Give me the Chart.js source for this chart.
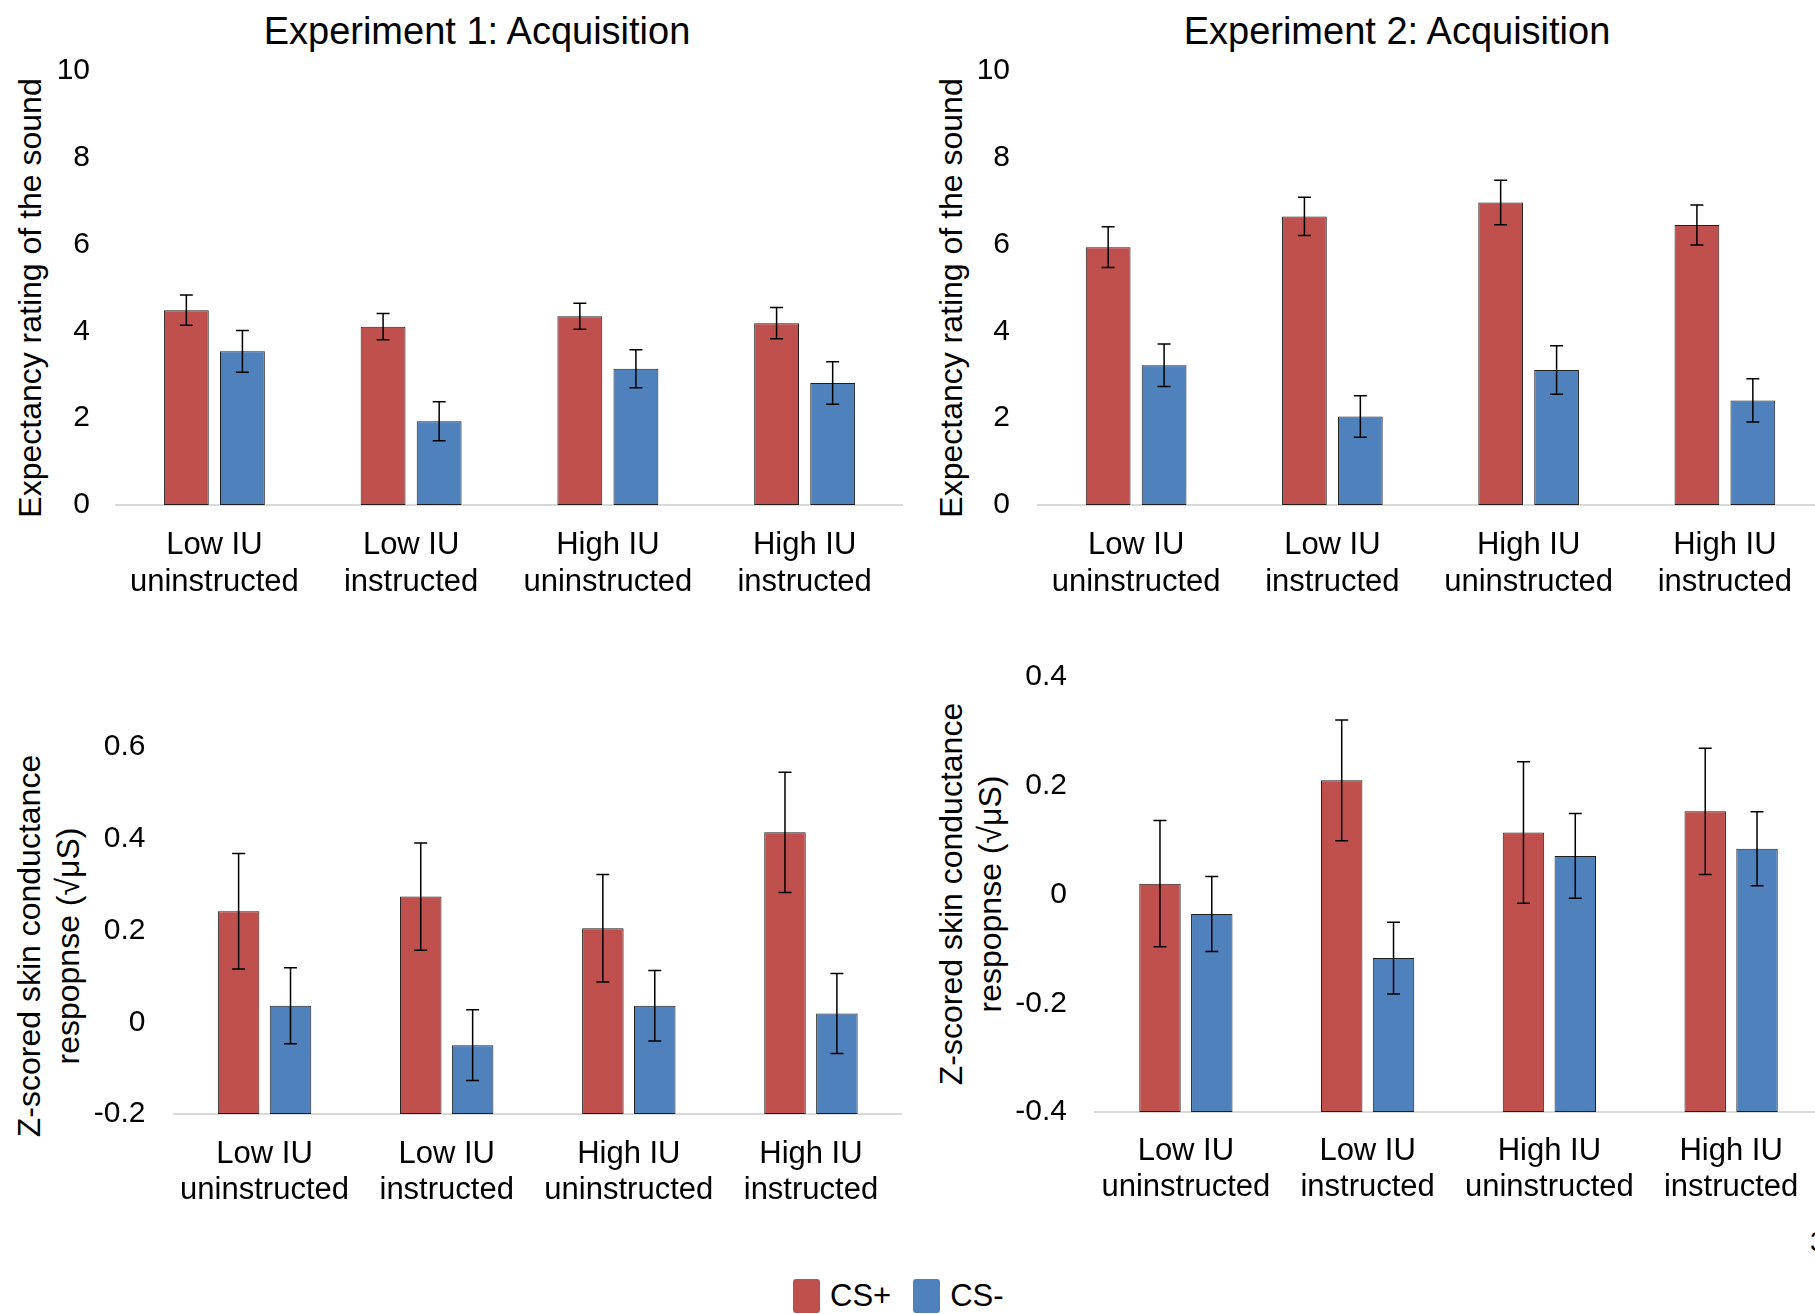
<!DOCTYPE html>
<html>
<head>
<meta charset="utf-8">
<script src="https://cdn.jsdelivr.net/npm/chart.js@4.4.1/dist/chart.umd.min.js"></script>
<style>
    html, body {
        margin: 0;
        padding: 0;
        background: #fff;
    }
    body {
        position: relative;
        width: 1815px;
        height: 1314px;
        overflow: hidden;
        font-family: 'Liberation Sans', Arial, sans-serif;
        color: #000;
    }
    canvas {
        position: absolute;
    }
    .panel-title {
        position: absolute;
        top: 9px;
        height: 44px;
        line-height: 44px;
        font-size: 38px;
        white-space: nowrap;
        transform: translateX(-50%);
    }
    .axis-title {
        position: absolute;
        font-size: 32px;
        line-height: 38.75px;
        white-space: nowrap;
        text-align: center;
        transform: translate(-50%, -50%) rotate(-90deg);
    }
    #legend {
        position: absolute;
        left: 793px;
        top: 1279px;
        display: flex;
        height: 34px;
        line-height: 34px;
        font-size: 31px;
    }
    .legend-item {
        display: flex;
        align-items: flex-start;
        margin-right: 22px;
    }
    .legend-box {
        width: 27px;
        height: 34px;
        border-radius: 3px;
        margin-right: 10px;
    }
    #pageNumber {
        position: absolute;
        left: 1810px;
        top: 1228px;
        font-size: 27px;
        line-height: 28px;
    }
</style>
</head>
<body>
<div class="panel-title" style="left: 477px;">Experiment 1: Acquisition</div>
<div class="panel-title" style="left: 1397px;">Experiment 2: Acquisition</div>

<div class="axis-title" style="left: 30px; top: 298px;">Expectancy rating of the sound</div>
<div class="axis-title" style="left: 951px; top: 298px;">Expectancy rating of the sound</div>
<div class="axis-title" style="left: 49px; top: 946px;">Z-scored skin conductance<br>respopnse (&#8730;&#956;S)</div>
<div class="axis-title" style="left: 971px; top: 894px;">Z-scored skin conductance<br>respopnse (&#8730;&#956;S)</div>

<canvas id="exp1Rating" style="left: 0px; top: 0px;" width="903" height="620"></canvas>
<canvas id="exp2Rating" style="left: 910px; top: 0px;" width="913" height="620"></canvas>
<canvas id="exp1Scr" style="left: 0px; top: 640px;" width="902" height="580"></canvas>
<canvas id="exp2Scr" style="left: 910px; top: 620px;" width="912" height="600"></canvas>

<div id="legend"></div>
<div id="pageNumber">3</div>

<script>
const categories = [
    ['Low IU', 'uninstructed'],
    ['Low IU', 'instructed'],
    ['High IU', 'uninstructed'],
    ['High IU', 'instructed'],
];
const seriesNames = ['CS+', 'CS-'];
const seriesColors = ['#C0504D', '#4F81BD'];

// expectancy ratings (0-10)
const exp1RatingCsPlus = [4.49, 4.11, 4.35, 4.19];
const exp1RatingCsPlusErr = [0.35, 0.30, 0.30, 0.36];
const exp1RatingCsMinus = [3.54, 1.93, 3.14, 2.81];
const exp1RatingCsMinusErr = [0.48, 0.45, 0.44, 0.49];

const exp2RatingCsPlus = [5.94, 6.65, 6.97, 6.45];
const exp2RatingCsPlusErr = [0.47, 0.44, 0.51, 0.46];
const exp2RatingCsMinus = [3.22, 2.04, 3.11, 2.41];
const exp2RatingCsMinusErr = [0.49, 0.48, 0.56, 0.50];

// z-scored skin conductance
const exp1ScrCsPlus = [0.242, 0.274, 0.205, 0.414];
const exp1ScrCsPlusErr = [0.126, 0.117, 0.117, 0.131];
const exp1ScrCsMinus = [0.036, -0.050, 0.036, 0.019];
const exp1ScrCsMinusErr = [0.083, 0.077, 0.077, 0.087];

const exp2ScrCsPlus = [0.020, 0.210, 0.114, 0.153];
const exp2ScrCsPlusErr = [0.116, 0.111, 0.130, 0.116];
const exp2ScrCsMinus = [-0.036, -0.117, 0.071, 0.084];
const exp2ScrCsMinusErr = [0.069, 0.066, 0.078, 0.068];

const ratingTicks = [0, 2, 4, 6, 8, 10];
const exp1ScrTicks = [-0.2, 0, 0.2, 0.4, 0.6];
const exp2ScrTicks = [-0.4, -0.2, 0, 0.2, 0.4];

const fontFamily = "'Liberation Sans', Arial, sans-serif";

const errorBarPlugin = {
    id: 'errorBars',
    afterDatasetsDraw(chart) {
        const { ctx } = chart;
        const yScale = chart.scales.y;
        const cap = 6.5;

        chart.data.datasets.forEach((dataset, datasetIndex) => {
            const meta = chart.getDatasetMeta(datasetIndex);
            meta.data.forEach((bar, index) => {
                const value = dataset.data[index];
                const err = dataset.errors[index];
                const top = yScale.getPixelForValue(value + err);
                const bottom = yScale.getPixelForValue(value - err);

                ctx.save();
                ctx.strokeStyle = '#000';
                ctx.lineWidth = 1.5;
                ctx.beginPath();
                ctx.moveTo(bar.x, top);
                ctx.lineTo(bar.x, bottom);
                ctx.moveTo(bar.x - cap, top);
                ctx.lineTo(bar.x + cap, top);
                ctx.moveTo(bar.x - cap, bottom);
                ctx.lineTo(bar.x + cap, bottom);
                ctx.stroke();
                ctx.restore();
            });
        });
    },
};

function makeDataset(index, values, errors, base) {
    return {
        label: seriesNames[index],
        data: values,
        errors: errors,
        base: base,
        backgroundColor: seriesColors[index],
        borderColor: '#1f1f1f',
        borderWidth: 1,
        borderSkipped: false,
        categoryPercentage: 0.57,
        barPercentage: 0.8,
    };
}

function createPanel(canvasId, setup) {
    const canvas = document.getElementById(canvasId);
    const min = setup.ticks[0];
    const max = setup.ticks[setup.ticks.length - 1];

    return new Chart(canvas.getContext('2d'), {
        type: 'bar',
        data: {
            labels: categories,
            datasets: [
                makeDataset(0, setup.csPlus, setup.csPlusErr, min),
                makeDataset(1, setup.csMinus, setup.csMinusErr, min),
            ],
        },
        options: {
            responsive: false,
            animation: false,
            devicePixelRatio: 1,
            layout: {
                padding: { top: setup.plotTop, left: 0, right: 0, bottom: 0 },
            },
            plugins: {
                legend: { display: false },
                tooltip: { enabled: false },
                title: { display: false },
            },
            scales: {
                x: {
                    grid: { display: false, drawTicks: false },
                    border: { display: true, color: '#d9d9d9', width: 2 },
                    ticks: {
                        color: '#000',
                        autoSkip: false,
                        maxRotation: 0,
                        padding: setup.xPadding,
                        font: { family: fontFamily, size: 31, lineHeight: setup.xLineHeight },
                    },
                    afterFit(scale) {
                        scale.height = setup.xAxisHeight;
                    },
                },
                y: {
                    min: min,
                    max: max,
                    afterBuildTicks(scale) {
                        scale.ticks = setup.ticks.map((value) => ({ value }));
                    },
                    grid: { display: false, drawTicks: false },
                    border: { display: false },
                    ticks: {
                        color: '#000',
                        padding: setup.yPadding,
                        font: { family: fontFamily, size: 30 },
                        callback(value) {
                            return String(Math.round(value * 10) / 10);
                        },
                    },
                    afterFit(scale) {
                        scale.width = setup.yAxisWidth;
                    },
                },
            },
        },
        plugins: [errorBarPlugin],
    });
}

createPanel('exp1Rating', {
    csPlus: exp1RatingCsPlus, csPlusErr: exp1RatingCsPlusErr,
    csMinus: exp1RatingCsMinus, csMinusErr: exp1RatingCsMinusErr,
    ticks: ratingTicks,
    plotTop: 71, xAxisHeight: 115, yAxisWidth: 116,
    yPadding: 26, xPadding: 22, xLineHeight: 1.2,
});

createPanel('exp2Rating', {
    csPlus: exp2RatingCsPlus, csPlusErr: exp2RatingCsPlusErr,
    csMinus: exp2RatingCsMinus, csMinusErr: exp2RatingCsMinusErr,
    ticks: ratingTicks,
    plotTop: 71, xAxisHeight: 115, yAxisWidth: 128,
    yPadding: 28, xPadding: 22, xLineHeight: 1.2,
});

createPanel('exp1Scr', {
    csPlus: exp1ScrCsPlus, csPlusErr: exp1ScrCsPlusErr,
    csMinus: exp1ScrCsMinus, csMinusErr: exp1ScrCsMinusErr,
    ticks: exp1ScrTicks,
    plotTop: 107, xAxisHeight: 106, yAxisWidth: 173.5,
    yPadding: 28, xPadding: 23, xLineHeight: 1.15,
});

createPanel('exp2Scr', {
    csPlus: exp2ScrCsPlus, csPlusErr: exp2ScrCsPlusErr,
    csMinus: exp2ScrCsMinus, csMinusErr: exp2ScrCsMinusErr,
    ticks: exp2ScrTicks,
    plotTop: 57, xAxisHeight: 108, yAxisWidth: 185,
    yPadding: 28, xPadding: 21.5, xLineHeight: 1.15,
});

const legend = document.getElementById('legend');
seriesNames.forEach((name, index) => {
    const item = document.createElement('div');
    item.className = 'legend-item';
    const box = document.createElement('span');
    box.className = 'legend-box';
    box.style.background = seriesColors[index];
    const text = document.createElement('span');
    text.textContent = name;
    item.appendChild(box);
    item.appendChild(text);
    legend.appendChild(item);
});
</script>
</body>
</html>
